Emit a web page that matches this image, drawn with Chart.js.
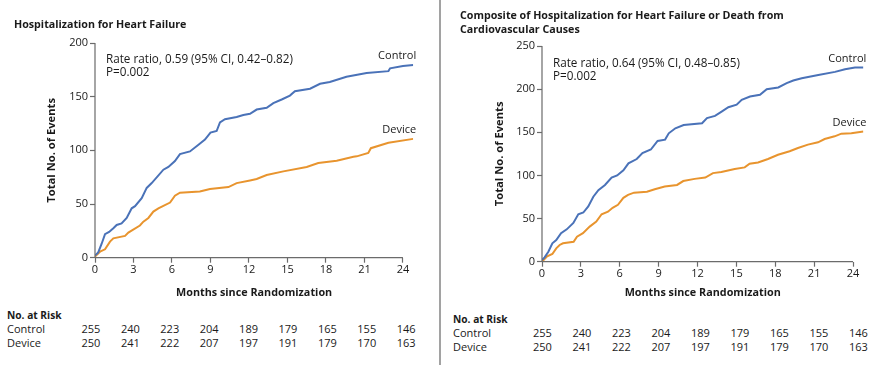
<!DOCTYPE html>
<html>
<head>
<meta charset="utf-8">
<script src="https://cdn.jsdelivr.net/npm/chart.js@4.4.1/dist/chart.umd.min.js"></script>
<style>
  body { margin: 0; background: #fff; font-family: "Open Sans", Lato, sans-serif; color: #1a1a1a; }
  #wrap { position: relative; width: 881px; height: 371px; overflow: hidden; }
  canvas { position: absolute; top: 0; }
  .t { position: absolute; white-space: nowrap; font-size: 11px; line-height: 13px; }
  .note { font-size: 11.7px; }
  .title { font-size: 10.7px; font-weight: bold; line-height: 14px; }
  .risk { font-size: 10.2px; font-weight: bold; line-height: 14px; }
  #divider { position: absolute; left: 439px; top: 0; width: 2px; height: 365px; background: #a2a2a2; }
</style>
</head>
<body>
<div id="wrap">
  <canvas id="hfChart" width="437" height="300" style="left:0"></canvas>
  <canvas id="compChart" width="437" height="300" style="left:441px"></canvas>
  <div id="divider"></div>
</div>
<script>
// --- Hospitalization for heart failure (left panel) ---
const hfControlMonths = [0, 0.25, 0.52, 0.78, 1.1, 1.43, 1.69, 2.07, 2.47, 2.86, 3.12, 3.64, 4.03, 4.42, 5.33, 5.72, 6.23, 6.62, 7.4, 8.04, 8.57, 9.0, 9.48, 9.74, 10.13, 11.04, 11.56, 12.08, 12.6, 13.38, 13.9, 14.55, 15.19, 15.58, 16.76, 17.54, 18.3, 19.6, 21.17, 22.87, 23.0, 24.0, 24.8];
const hfControlEvents = [2, 5, 13, 22, 24, 27.5, 30.5, 32, 37, 46, 48, 55.5, 65, 69.5, 82, 84.5, 90, 96.5, 99, 105, 110, 116.5, 118, 126, 129, 131, 133, 134, 138, 139.6, 144, 147.4, 151, 155, 157.4, 162, 163.6, 168.6, 172, 173.8, 176.4, 178.5, 179.4];
const hfDeviceMonths = [0, 0.39, 0.78, 1.17, 1.43, 2.34, 2.6, 3.5, 3.77, 4.16, 4.55, 4.94, 5.33, 5.85, 6.23, 6.62, 8.17, 8.96, 10.4, 11.04, 12.08, 12.6, 13.38, 14.68, 16.5, 17.4, 18.84, 20.14, 20.4, 21.3, 21.5, 22.87, 24.8];
const hfDeviceEvents = [1, 5.6, 7.8, 15, 18, 20.3, 23.4, 30, 33.6, 37, 43, 46, 48.3, 51.4, 57.7, 60.5, 61.7, 64, 65.8, 69.5, 72, 73.3, 77, 80.4, 84.5, 88.2, 90.4, 94, 94.4, 97.6, 102, 107, 110.7];

// --- Composite of HF hospitalization or CV death (right panel) ---
const compControlMonths = [0, 0.2, 0.49, 0.8, 1.1, 1.47, 1.91, 2.42, 2.8, 3.19, 3.57, 3.96, 4.35, 4.86, 5.37, 5.8, 6.28, 6.67, 7.31, 7.75, 8.4, 8.92, 9.5, 9.78, 10.29, 10.93, 12.35, 12.73, 13.35, 13.86, 14.38, 15.02, 15.41, 16.05, 16.82, 17.34, 18.23, 18.88, 19.39, 20.04, 21.32, 22.61, 23.38, 24.15, 24.8];
const compControlEvents = [2, 5, 11.6, 21.3, 25, 33, 37.5, 45, 55, 57, 64, 75.3, 83, 88.9, 97.5, 100, 106, 114, 119, 126, 130, 140, 141.5, 148.8, 154.6, 158.4, 160.4, 166.5, 169, 174, 179, 182, 187.7, 191.5, 193.5, 200, 202, 207, 210, 212.7, 216.5, 220, 223, 225, 225];
const compDeviceMonths = [0, 0.36, 0.8, 1.1, 1.36, 1.62, 2.44, 2.7, 3.16, 3.68, 4.19, 4.6, 5.09, 5.45, 5.86, 6.28, 6.64, 7.1, 8.1, 8.7, 9.47, 10.42, 10.9, 11.78, 12.6, 13.19, 13.84, 14.87, 15.64, 16.02, 16.67, 17.44, 18.21, 19.11, 19.75, 20.52, 21.3, 21.81, 22.58, 23.1, 23.87, 24.8];
const compDeviceEvents = [0, 5.8, 8.9, 15.5, 19.4, 21.3, 23, 29, 33, 40.7, 46.5, 55, 58, 62.5, 66, 74, 77.5, 80, 81, 84, 87.2, 89, 93.5, 96, 97.5, 102.7, 104, 107.4, 109.3, 113.6, 115, 119, 124, 128, 131.8, 135.7, 138.4, 142.2, 145.3, 148.4, 149, 151];

// --- No. at risk ---
const riskMonths = [0, 3, 6, 9, 12, 15, 18, 21, 24];
const riskControl = [255, 240, 223, 204, 189, 179, 165, 155, 146];
const riskDevice = [250, 241, 222, 207, 197, 191, 179, 170, 163];

const BLUE = '#4a72b8';
const ORANGE = '#e8942e';
const AXIS = '#6b6b6b';
const FONT = '"Open Sans", Lato, sans-serif';

function toPoints(months, events) {
    return months.map((m, i) => ({ x: m, y: events[i] }));
}

// draw the axis lines only from 0 to the last labelled tick, like the printed figure
const axisLines = {
    id: 'axisLines',
    afterDraw(chart, args, opts) {
        const { ctx, scales: { x, y } } = chart;
        ctx.save();
        ctx.strokeStyle = AXIS;
        ctx.lineWidth = 1.2;
        ctx.beginPath();
        ctx.moveTo(x.getPixelForValue(0), y.getPixelForValue(0));
        ctx.lineTo(x.getPixelForValue(opts.xEnd), y.getPixelForValue(0));
        ctx.moveTo(x.getPixelForValue(0), y.getPixelForValue(0));
        ctx.lineTo(x.getPixelForValue(0), y.getPixelForValue(y.max));
        ctx.stroke();
        ctx.restore();
    }
};

// "Control" / "Device" written just above the end of each curve
const endLabels = {
    id: 'endLabels',
    afterDatasetsDraw(chart) {
        const { ctx } = chart;
        ctx.save();
        ctx.font = '11px ' + FONT;
        ctx.fillStyle = '#1a1a1a';
        ctx.textAlign = 'right';
        ctx.textBaseline = 'middle';
        chart.data.datasets.forEach((ds, i) => {
            const pts = chart.getDatasetMeta(i).data;
            const last = pts[pts.length - 1];
            ctx.fillText(ds.label, last.x + 3, last.y - 9);
        });
        ctx.restore();
    }
};

function makeChart(canvasId, control, device, yMax, geom) {
    const ctx = document.getElementById(canvasId).getContext('2d');
    return new Chart(ctx, {
        type: 'line',
        data: {
            datasets: [
                { label: 'Control', data: control, borderColor: BLUE, borderWidth: 2, pointRadius: 0, tension: 0, fill: false },
                { label: 'Device', data: device, borderColor: ORANGE, borderWidth: 2, pointRadius: 0, tension: 0, fill: false }
            ]
        },
        options: {
            responsive: false,
            animation: false,
            events: [],
            layout: { padding: { left: 0, top: geom.top, right: geom.right, bottom: 0 } },
            scales: {
                x: {
                    type: 'linear', min: 0, max: 24.8,
                    grid: { drawOnChartArea: false, drawTicks: true, tickLength: 5, tickColor: AXIS, tickWidth: 1.2 },
                    border: { display: false },
                    ticks: { stepSize: 3, includeBounds: false, autoSkip: false, maxRotation: 0, padding: 1, color: '#1a1a1a', font: { family: FONT, size: 11 } },
                    title: { display: true, text: 'Months since Randomization', color: '#1a1a1a', padding: { top: 0, bottom: 1 }, font: { family: FONT, size: 10.8, weight: 'bold' } },
                    afterFit: s => { s.height = geom.xHeight; }
                },
                y: {
                    min: 0, max: yMax,
                    grid: { drawOnChartArea: false, drawTicks: true, tickLength: 5, tickColor: AXIS, tickWidth: 1.2 },
                    border: { display: false },
                    ticks: { stepSize: 50, padding: 2, color: '#1a1a1a', font: { family: FONT, size: 11 } },
                    title: { display: true, text: 'Total No. of Events', color: '#1a1a1a', padding: { top: geom.yTitlePad, bottom: 0 }, font: { family: FONT, size: 11.2, weight: 'bold' } },
                    afterFit: s => { s.width = geom.yWidth; }
                }
            },
            plugins: {
                legend: { display: false },
                tooltip: { enabled: false },
                axisLines: { xEnd: 24 }
            }
        },
        plugins: [axisLines, endLabels]
    });
}

makeChart('hfChart', toPoints(hfControlMonths, hfControlEvents), toPoints(hfDeviceMonths, hfDeviceEvents), 200,
    { top: 43, right: 23.8, xHeight: 42.3, yWidth: 95, yTitlePad: 45 });
makeChart('compChart', toPoints(compControlMonths, compControlEvents), toPoints(compDeviceMonths, compDeviceEvents), 250,
    { top: 46, right: 14.6, xHeight: 38.3, yWidth: 101, yTitlePad: 52 });

// titles, annotations and the at-risk table as plain text
const wrap = document.getElementById('wrap');
function addText(txt, left, top, cls) {
    const d = document.createElement('div');
    d.className = 't ' + (cls || '');
    d.textContent = txt;
    d.style.left = left + 'px';
    d.style.top = top + 'px';
    wrap.appendChild(d);
    return d;
}

addText('Hospitalization for Heart Failure', 14, 17, 'title');
addText('Composite of Hospitalization for Heart Failure or Death from', 460, 8, 'title');
addText('Cardiovascular Causes', 460, 22, 'title');

addText('Rate ratio, 0.59 (95% CI, 0.42\u20130.82)', 106, 52, 'note');
addText('P=0.002', 106, 65, 'note');
addText('Rate ratio, 0.64 (95% CI, 0.48\u20130.85)', 553, 56, 'note');
addText('P=0.002', 553, 69, 'note');

function riskTable(x0, yTop, colStart, colStep) {
    addText('No. at Risk', x0, yTop, 'risk');
    addText('Control', x0, yTop + 14);
    addText('Device', x0, yTop + 27.5);
    riskMonths.forEach((m, i) => {
        const c = addText(String(riskControl[i]), 0, yTop + 14);
        const d = addText(String(riskDevice[i]), 0, yTop + 27.5);
        [c, d].forEach(el => {
            el.style.left = (colStart + i * colStep - el.offsetWidth / 2) + 'px';
        });
    });
}
riskTable(7, 308, 91, 39.4);
riskTable(453, 312, 542.5, 39.5);
</script>
</body>
</html>
